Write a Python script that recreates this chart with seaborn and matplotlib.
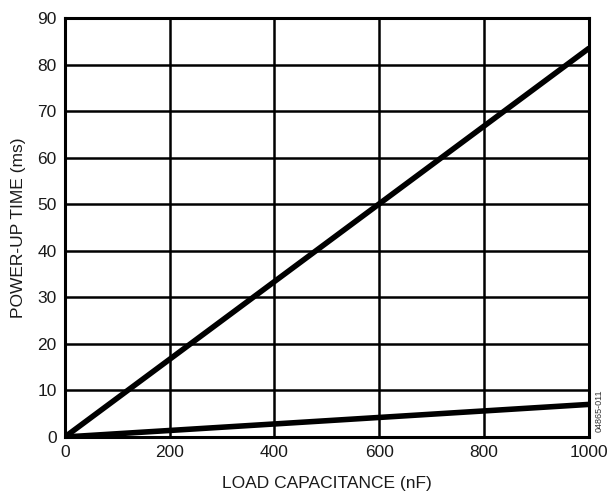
import numpy as np
import pandas as pd
import matplotlib
matplotlib.use("Agg")
import matplotlib.pyplot as plt
import seaborn as sns

# load capacitance (nF) and power-up time (ms)
load_cap = [0, 200, 400, 600, 800, 1000]
time_upper = [0, 16.7, 33.4, 50.1, 66.8, 83.5]
time_lower = [0, 1.4, 2.8, 4.2, 5.6, 7.0]

x_ticks = [0, 200, 400, 600, 800, 1000]
y_ticks = [0, 10, 20, 30, 40, 50, 60, 70, 80, 90]

df = pd.DataFrame({"cap": load_cap + load_cap,
                   "time": time_upper + time_lower,
                   "curve": ["upper"] * len(load_cap) + ["lower"] * len(load_cap)})

sns.set_style("white")
plt.rcParams["font.family"] = ["Liberation Sans", "DejaVu Sans"]

fig = plt.figure(figsize=(6.12, 4.91), dpi=100)
ax = fig.add_axes([0.106, 0.110, 0.856, 0.853])

sns.lineplot(data=df, x="cap", y="time", units="curve", estimator=None,
             color="black", linewidth=4, ax=ax, legend=False)

ax.set_xlim(0, 1000)
ax.set_ylim(0, 90)
ax.set_xticks(x_ticks)
ax.set_yticks(y_ticks)
ax.grid(True, color="black", linewidth=1.8)
ax.set_axisbelow(True)
for s in ax.spines.values():
    s.set_color("black")
    s.set_linewidth(2.2)

ax.tick_params(axis="both", labelsize=12.5, length=0, pad=6, colors="#1a1a1a")
ax.set_xlabel("LOAD CAPACITANCE (nF)", fontsize=12.5, labelpad=11, color="#1a1a1a")
ax.set_ylabel("POWER-UP TIME (ms)", fontsize=12.5, labelpad=8, color="#1a1a1a")

fig.text(0.972, 0.12, "04865-011", rotation=90, fontsize=6.5,
         ha="left", va="bottom", color="#333333")

fig.savefig("out.png", dpi=100)
